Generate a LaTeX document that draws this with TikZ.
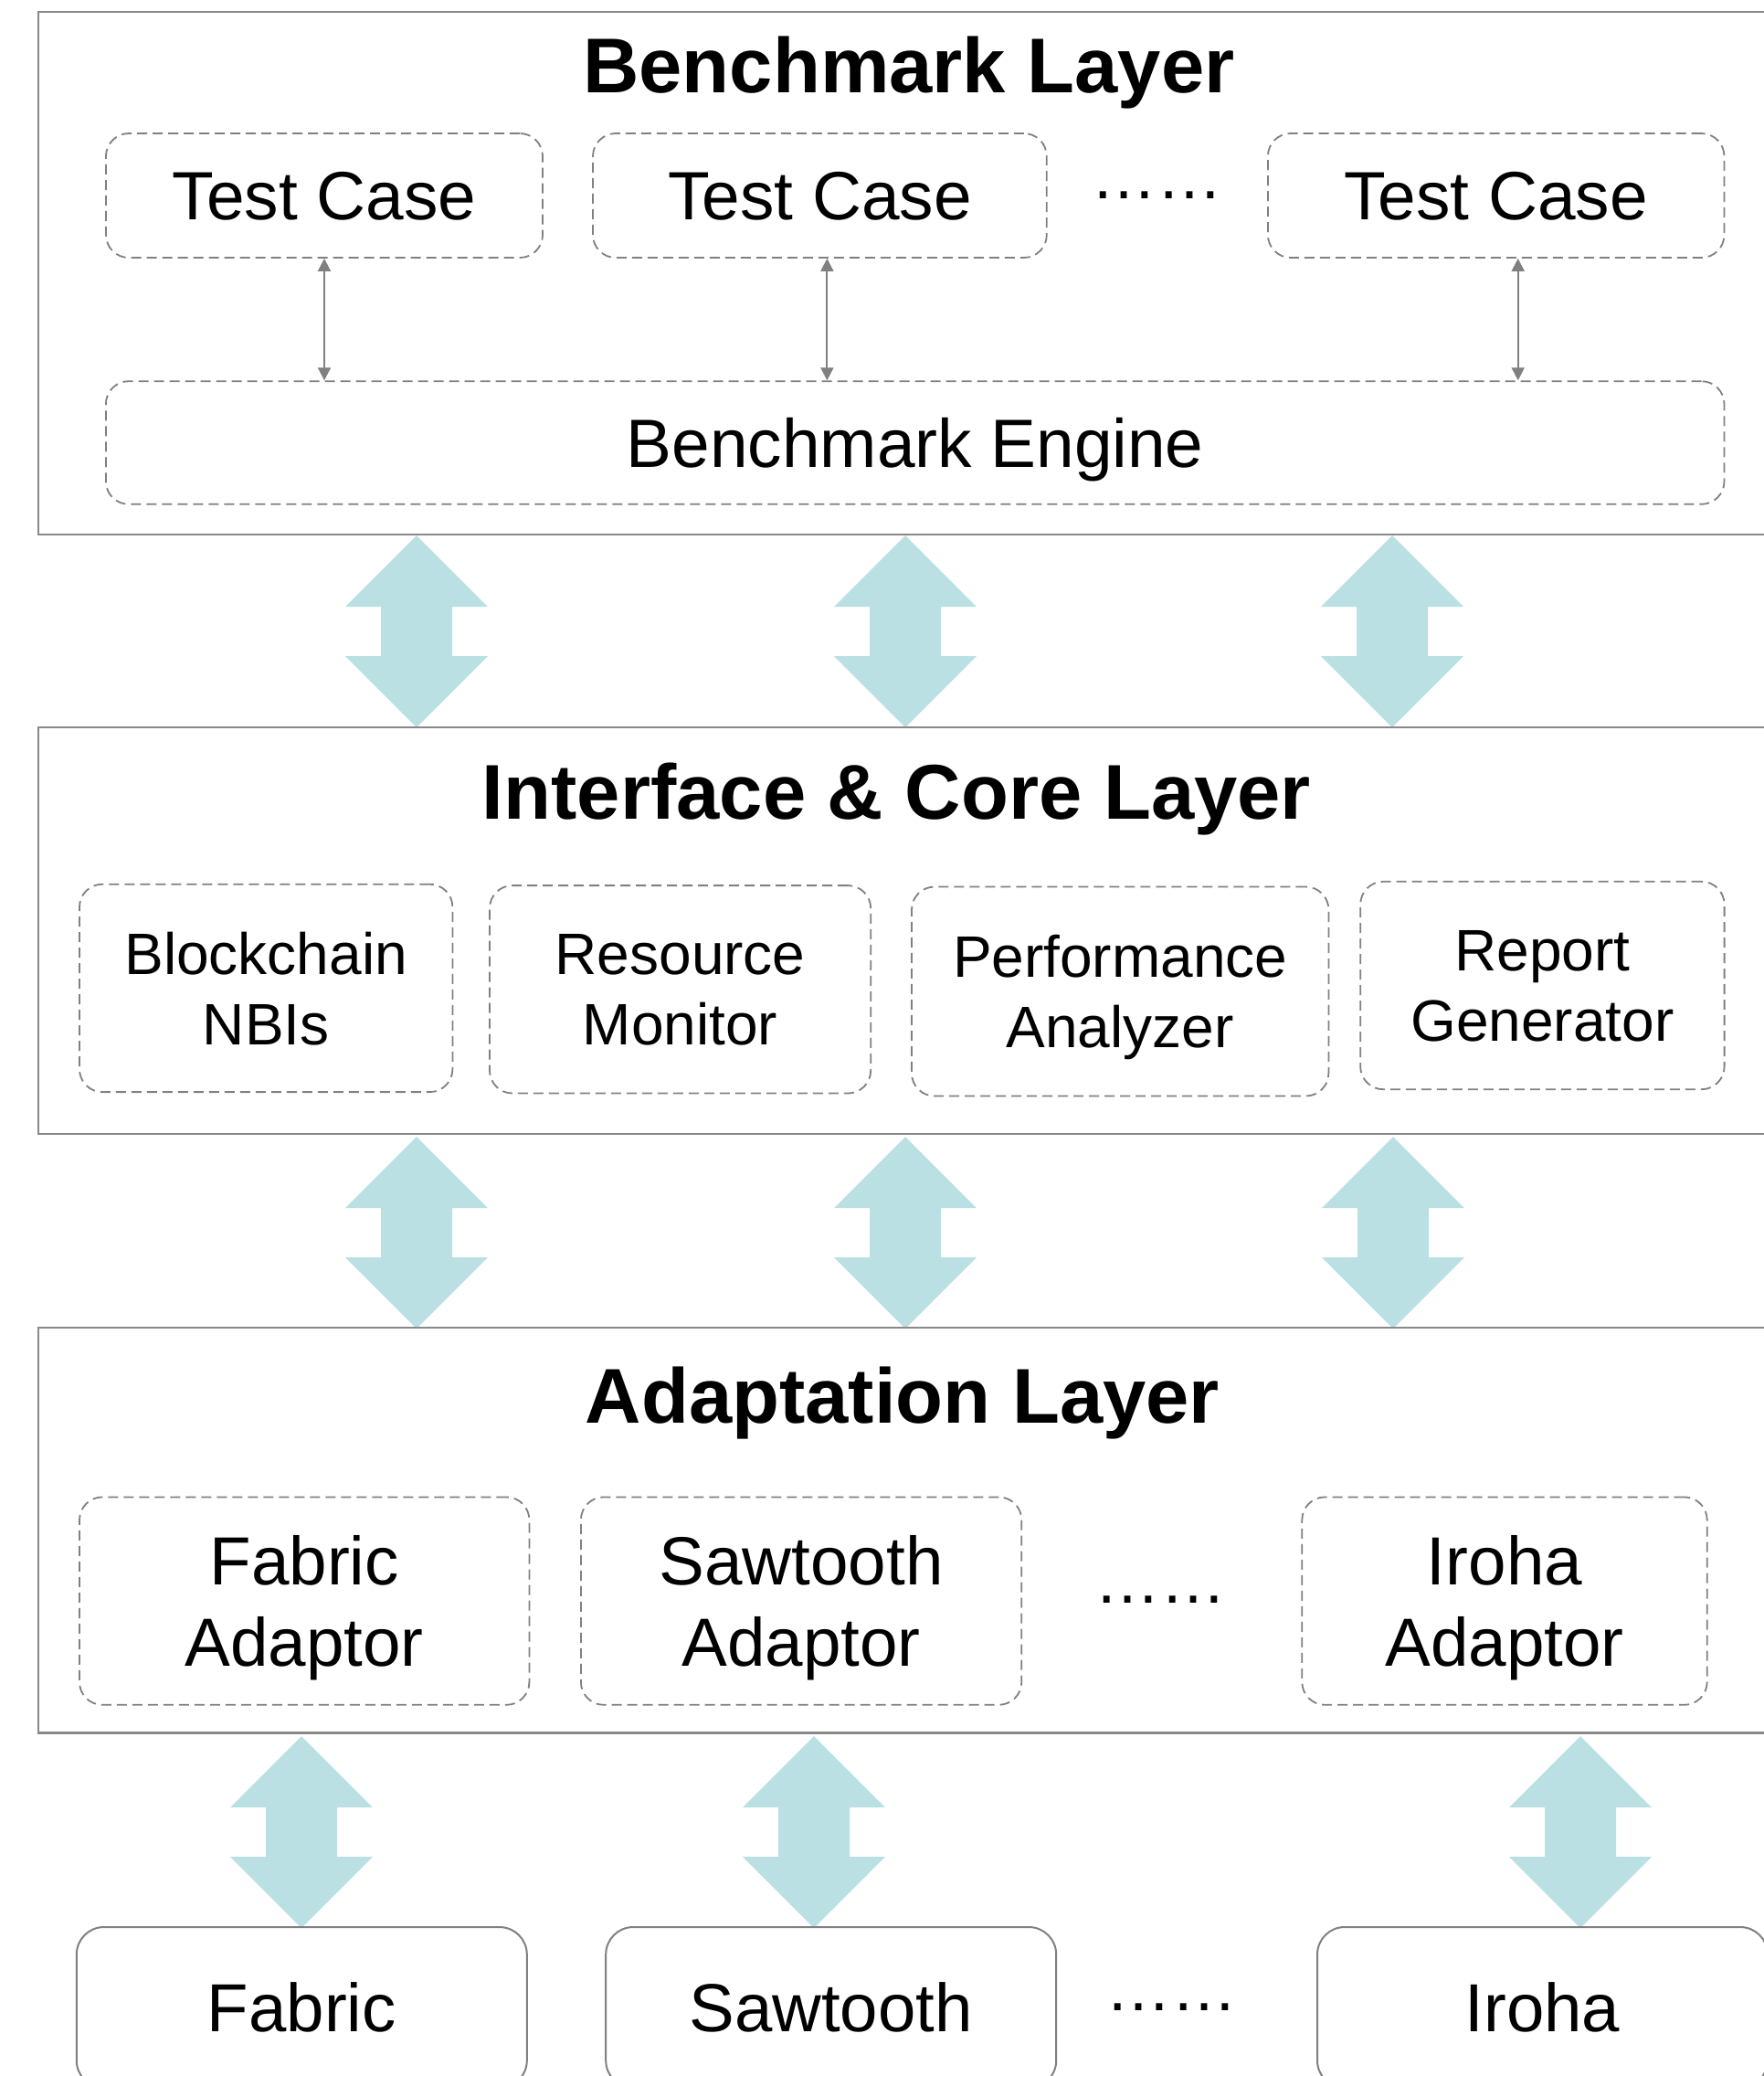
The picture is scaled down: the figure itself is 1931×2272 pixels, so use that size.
\documentclass[tikz,border=0pt]{standalone}
\usepackage{fontspec}
\setmainfont{Liberation Sans}
\usetikzlibrary{arrows.meta,positioning,calc}

\definecolor{layerline}{RGB}{137,137,137}
\definecolor{boxline}{RGB}{128,128,128}
\definecolor{flowfill}{RGB}{186,224,227}

\tikzset{
  layerbox/.style={draw=layerline,line width=1.2pt,anchor=north west,inner sep=0pt,minimum width=959.5pt},
  layertitle/.style={anchor=base,font=\fontsize{42.5}{50}\selectfont\bfseries},
  dashbox/.style={draw=boxline,line width=0.9pt,dash pattern=on 5.5pt off 3pt,rounded corners=12.5pt,
    align=center,inner sep=0pt,text depth=0pt},
  casefont/.style={font=\fontsize{37.4}{44}\selectfont},
  corefont/.style={font=\fontsize{32}{38.5}\selectfont},
  adaptfont/.style={font=\fontsize{37.3}{44.5}\selectfont},
  chainbox/.style={draw=boxline,line width=1pt,rounded corners=15pt,inner sep=0pt,
    minimum width=246.5pt,minimum height=88pt,text depth=0pt,font=\fontsize{37.2}{44}\selectfont},
  moredots/.style={anchor=base,font=\fontsize{36}{43}\selectfont},
  link/.style={boxline,line width=1pt,{Triangle[length=7pt,width=7pt]}-{Triangle[length=7pt,width=7pt]}},
  dblarrow/.pic={
    \fill[flowfill] (0,0) -- (78,78) -- (39,78) -- (39,132) -- (78,132) -- (0,210)
      -- (-78,132) -- (-39,132) -- (-39,78) -- (-78,78) -- cycle;
  }
}

\begin{document}
\begin{tikzpicture}[x=0.5pt,y=-0.5pt]
  \path[use as bounding box] (0,0) rectangle (1931,2272);
  \clip (0,0) rectangle (1931,2272);

  % Benchmark layer
  \node[layerbox,minimum height=286pt] (bench) at (41,12) {};
  \node[layertitle] (benchtitle) at (995,101) {Benchmark Layer};
  \node[dashbox,casefont,minimum width=239pt,minimum height=68pt] (tc1) at (355,214) {Test Case};
  \node[dashbox,casefont,minimum width=248.4pt,minimum height=68pt] (tc2) at (897.4,214) {Test Case};
  \node[moredots] (benchdots) at (1266,217) {……};
  \node[dashbox,casefont,minimum width=249.8pt,minimum height=68pt] (tc3) at (1637.7,214) {Test Case};
  \node[dashbox,casefont,minimum width=885.8pt,minimum height=67.3pt] (engine) at (1001.7,484.5) {Benchmark Engine};

  \draw[link] (tc1) -- (tc1 |- engine.north);
  \coordinate (tc2foot) at ([xshift=4pt]tc2.south);
  \draw[link] (tc2foot) -- (tc2foot |- engine.north);
  \coordinate (tc3foot) at ([xshift=12pt]tc3.south);
  \draw[link] (tc3foot) -- (tc3foot |- engine.north);

  \foreach \x in {456,991,1524} {
    \pic at (\x,586) {dblarrow};
  }

  % Interface & core layer
  \node[layerbox,minimum height=222.5pt] (core) at (41,795) {};
  \node[layertitle] (coretitle) at (981.5,896.7) {Interface \& Core Layer};
  \node[dashbox,corefont,minimum width=204.2pt,minimum height=113.7pt] (nbi) at (291.2,1081.4) {Blockchain\\NBIs};
  \node[dashbox,corefont,minimum width=208.6pt,minimum height=113.7pt] (monitor) at (744.6,1082.8) {Resource\\Monitor};
  \node[dashbox,corefont,minimum width=228.2pt,minimum height=114.5pt] (analyzer) at (1226.2,1085) {Performance\\Analyzer};
  \node[dashbox,corefont,minimum width=199.2pt,minimum height=113.7pt] (report) at (1688.4,1078.5) {Report\\Generator};

  \foreach \x in {456,991,1525} {
    \pic at (\x,1244) {dblarrow};
  }

  % Adaptation layer
  \node[layerbox,minimum height=221.8pt] (adapt) at (41,1451.5) {};
  \node[layertitle] (adapttitle) at (988,1557) {Adaptation Layer};
  \node[dashbox,adaptfont,minimum width=246.2pt,minimum height=113.7pt] (fabad) at (333.2,1752.1) {Fabric\\Adaptor};
  \node[dashbox,adaptfont,minimum width=241.2pt,minimum height=113.7pt] (sawad) at (877.1,1752.1) {Sawtooth\\Adaptor};
  \node[moredots] (adaptdots) at (1270,1754) {……};
  \node[dashbox,adaptfont,minimum width=221.7pt,minimum height=113.7pt] (irohaad) at (1647,1752.1) {Iroha\\Adaptor};

  \foreach \x in {330,891,1730} {
    \pic at (\x,1900) {dblarrow};
  }

  % Blockchains
  \node[chainbox] (fabric) at (330.3,2197) {Fabric};
  \node[chainbox] (sawtooth) at (909.7,2197) {Sawtooth};
  \node[moredots] (chaindots) at (1282,2200) {……};
  \node[chainbox] (iroha) at (1688.5,2197) {Iroha};

\end{tikzpicture}
\end{document}
